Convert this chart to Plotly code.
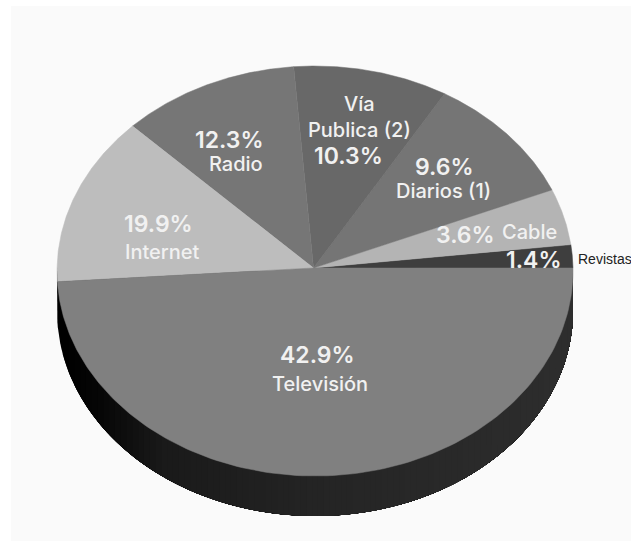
import numpy as np
import plotly.graph_objects as go

# Share of advertising spend by medium, counter-clockwise from the right-hand edge
media = ["Revistas", "Cable", "Diarios (1)", "Vía<br>Publica (2)", "Radio", "Internet", "Televisión"]
shares = [1.4, 3.6, 9.6, 10.3, 12.3, 19.9, 42.9]
slice_colors = ["#3e3e3e", "#b4b4b4", "#757575", "#686868", "#767676", "#bdbdbd", "#808080"]

W, H = 631, 541
CX, CY, RX, RY = 315, 271, 258, 205      # top face ellipse
APEX = (313.5, 268)                      # where the slices meet
DEPTH = 40                               # thickness of the disc

# Tilted-disc projection: turns a true pie angle into the angle seen on the ellipse
WARP = [-10.48, 6.13, 20.74, 5.18, -1.10]


def projected(deg):
    r = np.radians(deg)
    return deg + WARP[0] + WARP[1] * np.cos(r) + WARP[2] * np.sin(r) + WARP[3] * np.cos(2 * r) + WARP[4] * np.sin(2 * r)


fig = go.Figure()

# Disc wall: overlapping strips from left to right give a dark horizontal ramp
edges = np.linspace(CX - RX, CX + RX, 90)
for x0 in edges[:-1]:
    u = np.linspace(np.arccos(np.clip((x0 - CX) / RX, -1, 1)), 0, 120)
    xs = CX + RX * np.cos(u)
    ys = CY + DEPTH + RY * np.sin(u)
    level = int(np.interp(x0, [57, 95, 160, 320, 572], [0, 6, 26, 37, 46]))
    color = f"rgb({level},{level},{level})"
    fig.add_trace(go.Scatter(
        x=np.r_[x0, xs, CX + RX, x0], y=np.r_[CY, ys, CY, CY],
        mode="lines", fill="toself", fillcolor=color, line=dict(width=0, color=color), hoverinfo="skip",
    ))

# Top face: each slice's span comes from its share
stops = np.r_[0, np.cumsum(shares)] / np.sum(shares) * 360
for name, start, end, color in zip(media, stops[:-1], stops[1:], slice_colors):
    a = np.radians(projected(np.linspace(start, end, 160)))
    xs = np.r_[APEX[0], CX + RX * np.cos(a), APEX[0]]
    ys = np.r_[APEX[1], CY - RY * np.sin(a), APEX[1]]
    fig.add_trace(go.Scatter(
        x=xs, y=ys, mode="lines", fill="toself", fillcolor=color,
        line=dict(width=0.5, color=color), name=name.replace("<br>", " "), hoverinfo="name",
    ))

LIGHT = "#f1f1f1"
PCT = dict(family="Inter", size=23, color=LIGHT, weight=600)
NAME = dict(family="Inter", size=20, color=LIGHT, weight=500)


def label(text, x, y, font):
    fig.add_annotation(x=x, y=y, text=text, showarrow=False, font=font, xanchor="center", yanchor="middle")


def pct(i):
    return f"{shares[i]:.1f}%"


label(pct(6), 317, 355, PCT)
label(media[6], 320, 384, NAME)
label(pct(5), 158, 224, PCT)
label(media[5], 162, 252, NAME)
label(pct(4), 229, 140, PCT)
label(media[4], 236, 164, NAME)
label(pct(3), 348, 156, PCT)
label(media[3], 359, 117, NAME)
label(pct(2), 444, 167, PCT)
label(media[2], 443, 191, NAME)
label(pct(1), 465, 235, PCT)
label(media[1], 529, 232, NAME)
label(pct(0), 533, 260, PCT)
fig.add_annotation(
    x=576, y=259, text=media[0], showarrow=False, xanchor="left", yanchor="middle",
    font=dict(family="Liberation Sans", size=14, color="#222222"),
)

fig.update_layout(
    width=W, height=H, margin=dict(l=0, r=0, t=0, b=0),
    paper_bgcolor="#ffffff", plot_bgcolor="#ffffff", showlegend=False,
    xaxis=dict(range=[0, W], visible=False, fixedrange=True),
    yaxis=dict(range=[H, 0], visible=False, fixedrange=True),
    shapes=[dict(type="rect", layer="below", x0=11, x1=W, y0=6, y1=H, fillcolor="#fafafa", line_width=0)],
)

fig.write_html("out.html")
